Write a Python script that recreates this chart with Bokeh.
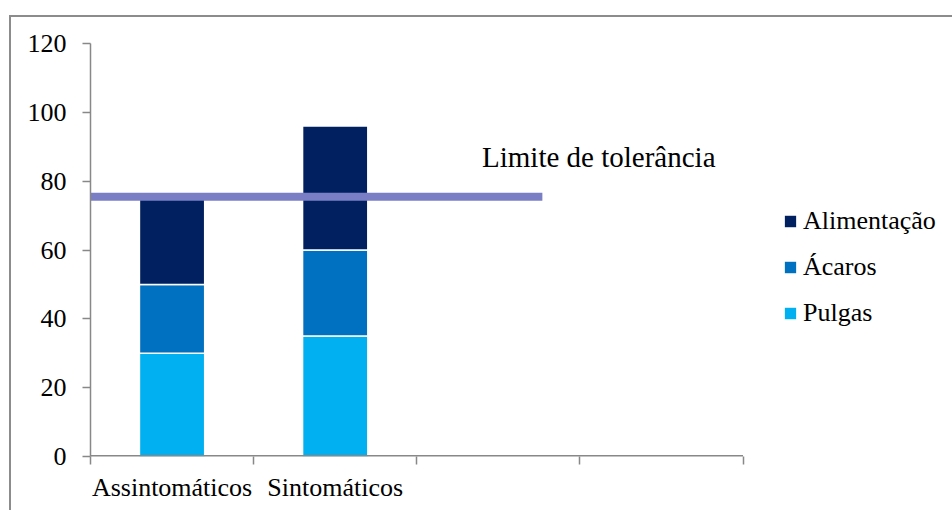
from bokeh.plotting import figure
from bokeh.models import (ColumnDataSource, FixedTicker, Legend, LegendItem, Label)
from bokeh.embed import file_html
from bokeh.resources import INLINE

# ---- data ----
categories = ["Assintomáticos", "Sintomáticos"]
n_slots = 4
pulgas = [30, 35]
acaros = [20, 25]
alimentacao = [25, 36]
series_names = ["Pulgas", "Ácaros", "Alimentação"]
series_colors = ["#00b0f0", "#0070c0", "#002060"]
limite = 75.5
limite_label = "Limite de tolerância"
y_ticks = [0, 20, 40, 60, 80, 100, 120]

FONT = "Liberation Serif"
AXIS_COLOR = "#888888"

# layout: category axis spans 651 px, frame extends to the right edge to hold the legend
AXIS_PX = 651.0
FRAME_PX = 862.0
x_end = n_slots * FRAME_PX / AXIS_PX

xpos = [i + 0.5 for i in range(len(categories))]
src = ColumnDataSource(dict(x=xpos, Pulgas=pulgas, Ácaros=acaros, Alimentação=alimentacao))

p = figure(width=943, height=495, margin=(15, 0, 0, 9),
           x_range=(0, x_end), y_range=(0, 120),
           output_backend="svg", toolbar_location=None,
           min_border_left=79, min_border_top=26, min_border_right=0, min_border_bottom=56,
           styles={"border-top": "2px solid #8c8c8c", "border-left": "2px solid #8c8c8c",
                   "box-sizing": "border-box"})
p.outline_line_color = None
p.xgrid.visible = False
p.ygrid.visible = False

renderers = p.vbar_stack(series_names, x="x", width=0.4, source=src,
                         color=series_colors, line_color="white", line_width=1.5)

# category axis line (only across the category slots)
p.segment(x0=[0], y0=[0], x1=[n_slots], y1=[0], line_color=AXIS_COLOR, line_width=3)

# tolerance line
p.line(x=[0, 2.77], y=[limite, limite], line_color="#7a7fc5", line_width=8)

p.add_layout(Label(x=2.40, y=87, text=limite_label, text_font=FONT,
                   text_font_size="29px", text_color="#000000",
                   text_baseline="alphabetic", text_align="left"))

# axes
xa = p.xaxis[0]
xa.ticker = FixedTicker(ticks=xpos, minor_ticks=list(range(n_slots + 1)))
xa.major_label_overrides = {x: c for x, c in zip(xpos, categories)}
xa.major_tick_out = 0
xa.major_tick_in = 0
xa.minor_tick_out = 8
xa.minor_tick_in = 0
xa.minor_tick_line_color = AXIS_COLOR
xa.minor_tick_line_width = 1.5
xa.axis_line_color = None
xa.major_label_text_font = FONT
xa.major_label_text_font_size = "26px"
xa.major_label_text_color = "#000000"
xa.major_label_standoff = 8

ya = p.yaxis[0]
ya.ticker = FixedTicker(ticks=y_ticks)
ya.major_tick_out = 8
ya.major_tick_in = 0
ya.minor_tick_line_color = None
ya.major_tick_line_color = AXIS_COLOR
ya.major_tick_line_width = 1.5
ya.axis_line_color = AXIS_COLOR
ya.axis_line_width = 1.5
ya.major_label_text_font = FONT
ya.major_label_text_font_size = "26px"
ya.major_label_text_color = "#000000"
ya.major_label_standoff = 16

items = [LegendItem(label=name, renderers=[r]) for name, r in zip(series_names, renderers)][::-1]
legend = Legend(items=items, location=(692, 128),
                label_text_font=FONT, label_text_font_size="26px",
                label_text_color="#000000",
                glyph_width=16, glyph_height=16, label_standoff=5,
                spacing=16, padding=0, margin=0,
                border_line_color=None, background_fill_alpha=0)
p.add_layout(legend, "center")

open("out.html", "w").write(file_html(p, INLINE))
